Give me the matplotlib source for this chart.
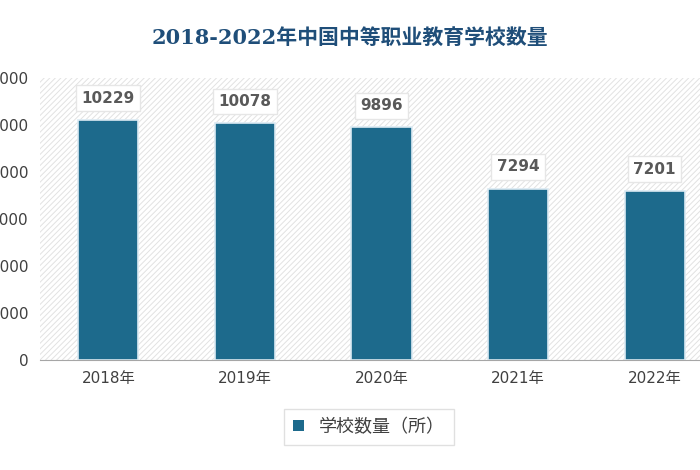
import matplotlib.pyplot as plt
import matplotlib.patches as mpatches
import matplotlib as mpl

mpl.rcParams["font.family"] = ["DejaVu Sans", "Noto Sans CJK SC", "Noto Sans CJK JP",
                               "Noto Sans CJK TC", "Noto Sans CJK KR"]
mpl.rcParams["hatch.linewidth"] = 0.7

years = ["2018年", "2019年", "2020年", "2021年", "2022年"]
counts = [10229, 10078, 9896, 7294, 7201]
yticks = [0, 2000, 4000, 6000, 8000, 10000, 12000]

bar_color = "#1d6a8c"

fig = plt.figure(figsize=(7, 4.7), dpi=100)
ax = fig.add_axes([40 / 700, 1 - 360 / 470, 683 / 700, 282 / 470])

bg = mpatches.Rectangle((0, 0), 1, 1, transform=ax.transAxes, facecolor="white",
                        edgecolor="#e2e2e2", linewidth=0, hatch="//////", zorder=0)
ax.add_patch(bg)

x = range(len(years))
ax.bar(x, counts, width=0.44, color=bar_color, edgecolor="#dbeaf3", linewidth=1.2,
       zorder=2, label="学校数量（所）")
for i, v in zip(x, counts):
    ax.text(i, v + 600, str(v), ha="center", va="bottom", fontsize=11, fontweight="bold",
            color="#595959",
            bbox=dict(boxstyle="square,pad=0.35", facecolor="white", edgecolor="#e6e6e6"),
            zorder=3)

ax.set_xlim(-0.5, 4.5)
ax.set_ylim(0, 12000)
ax.set_yticks(yticks)
ax.set_yticklabels([str(t) for t in yticks], fontsize=11, color="#404040")
ax.set_xticks(list(x))
ax.set_xticklabels(years, fontsize=11, color="#404040")
ax.tick_params(length=0, pad=8)
for s in ["top", "right", "left"]:
    ax.spines[s].set_visible(False)
ax.spines["bottom"].set_color("#a6a6a6")

fig.text(0.5, 1 - 38 / 470, "2018-2022年中国中等职业教育学校数量", ha="center", va="center",
         fontsize=15, fontweight="bold", color="#1f4e79",
         family=["DejaVu Serif", "Noto Sans CJK SC", "Noto Sans CJK JP"])

leg = fig.legend(loc="center", bbox_to_anchor=(369 / 700, 1 - 427 / 470),
                 prop={"size": 13}, frameon=True,
                 fancybox=False, handlelength=0.6, handleheight=0.6,
                 borderpad=0.5, borderaxespad=0, labelcolor="#404040")
leg.get_frame().set_edgecolor("#d9d9d9")
leg.get_frame().set_linewidth(1)
for h in leg.legend_handles:
    h.set_edgecolor("none")

fig.savefig("out.png", dpi=100)
